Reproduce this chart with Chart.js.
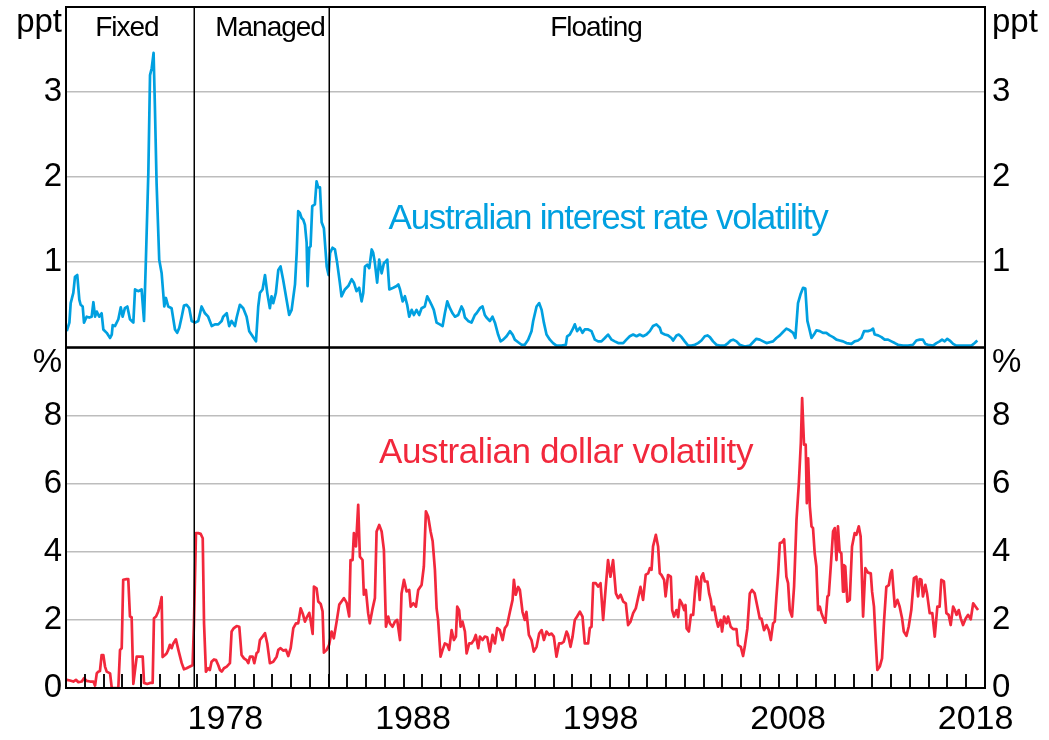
<!DOCTYPE html>
<html><head><meta charset="utf-8">
<script src="https://cdn.jsdelivr.net/npm/chart.js@4.4.0/dist/chart.umd.min.js"></script>
<style>
html,body{margin:0;padding:0;background:#fff;}
#wrap{position:relative;width:1049px;height:740px;overflow:hidden;background:#fff;}
canvas{position:absolute;left:0;}
#c1{top:-50px;}
#c2{top:290px;}
#c3{top:290px;pointer-events:none;}
</style></head><body>
<div id="wrap"><canvas id="c1" width="1049" height="420"></canvas><canvas id="c2" width="1049" height="450"></canvas><canvas id="c3" width="1049" height="450"></canvas></div>
<script>
// ---------- DATA ----------
const irDates = [1970.04,1970.18,1970.25,1970.39,1970.48,1970.60,1970.71,1970.78,1970.89,1970.96,1971.10,1971.24,1971.37,1971.46,1971.55,1971.64,1971.77,1971.90,1971.99,1972.17,1972.35,1972.44,1972.49,1972.61,1972.79,1972.92,1973.02,1973.14,1973.27,1973.41,1973.59,1973.68,1973.85,1974.03,1974.16,1974.26,1974.39,1974.48,1974.57,1974.67,1974.74,1974.83,1974.97,1975.10,1975.24,1975.33,1975.45,1975.63,1975.81,1975.93,1976.04,1976.17,1976.29,1976.43,1976.57,1976.70,1976.88,1977.05,1977.23,1977.41,1977.58,1977.77,1977.94,1978.12,1978.30,1978.38,1978.57,1978.70,1978.83,1979.01,1979.10,1979.27,1979.45,1979.63,1979.77,1979.95,1980.13,1980.25,1980.34,1980.48,1980.61,1980.73,1980.87,1980.96,1981.05,1981.19,1981.32,1981.44,1981.58,1981.76,1981.90,1982.03,1982.21,1982.30,1982.38,1982.47,1982.56,1982.65,1982.74,1982.83,1982.88,1982.97,1983.04,1983.13,1983.27,1983.36,1983.45,1983.54,1983.63,1983.75,1983.90,1984.00,1984.08,1984.21,1984.34,1984.46,1984.60,1984.69,1984.87,1985.05,1985.23,1985.35,1985.49,1985.63,1985.76,1985.85,1985.94,1986.06,1986.17,1986.30,1986.38,1986.47,1986.59,1986.70,1986.83,1986.95,1987.06,1987.13,1987.24,1987.45,1987.63,1987.72,1987.81,1987.95,1988.07,1988.19,1988.30,1988.43,1988.55,1988.69,1988.83,1988.96,1989.13,1989.26,1989.40,1989.49,1989.61,1989.76,1989.93,1990.08,1990.20,1990.33,1990.47,1990.61,1990.74,1990.91,1991.09,1991.18,1991.27,1991.44,1991.62,1991.80,1991.89,1992.07,1992.21,1992.33,1992.42,1992.60,1992.74,1992.87,1993.04,1993.17,1993.31,1993.49,1993.67,1993.81,1993.93,1994.11,1994.29,1994.46,1994.64,1994.82,1994.91,1995.09,1995.23,1995.36,1995.48,1995.62,1995.80,1995.97,1996.15,1996.42,1996.65,1996.72,1996.86,1997.01,1997.13,1997.25,1997.40,1997.54,1997.66,1997.84,1998.02,1998.20,1998.37,1998.55,1998.73,1998.90,1999.09,1999.26,1999.44,1999.71,1999.88,2000.06,2000.24,2000.42,2000.59,2000.77,2000.95,2001.13,2001.30,2001.48,2001.66,2001.75,2001.93,2002.10,2002.28,2002.37,2002.55,2002.67,2002.82,2002.99,2003.17,2003.35,2003.53,2003.70,2003.88,2004.06,2004.20,2004.33,2004.50,2004.68,2004.86,2005.12,2005.30,2005.44,2005.57,2005.75,2005.92,2006.19,2006.46,2006.63,2006.81,2006.99,2007.17,2007.35,2007.52,2007.70,2007.88,2008.06,2008.23,2008.41,2008.59,2008.77,2008.89,2009.03,2009.16,2009.30,2009.42,2009.53,2009.62,2009.75,2009.88,2010.01,2010.19,2010.36,2010.54,2010.72,2010.90,2011.08,2011.25,2011.43,2011.61,2011.88,2012.05,2012.23,2012.41,2012.55,2012.76,2012.91,2013.03,2013.12,2013.30,2013.48,2013.65,2013.83,2014.01,2014.19,2014.36,2014.63,2014.90,2015.16,2015.34,2015.52,2015.69,2015.82,2015.96,2016.23,2016.41,2016.58,2016.71,2016.85,2016.99,2017.12,2017.30,2017.47,2017.74,2018.01,2018.28,2018.45,2018.59];
const irValues = [0.19,0.29,0.52,0.64,0.83,0.85,0.56,0.50,0.48,0.29,0.36,0.35,0.36,0.53,0.36,0.42,0.36,0.40,0.21,0.17,0.11,0.15,0.26,0.25,0.33,0.47,0.36,0.46,0.48,0.33,0.29,0.68,0.66,0.68,0.31,1.03,2.05,3.20,3.28,3.46,2.83,1.93,1.03,0.87,0.48,0.58,0.48,0.46,0.21,0.17,0.23,0.36,0.49,0.50,0.46,0.31,0.29,0.31,0.48,0.40,0.36,0.25,0.27,0.27,0.31,0.36,0.40,0.25,0.31,0.25,0.35,0.50,0.46,0.36,0.19,0.13,0.07,0.48,0.64,0.68,0.85,0.64,0.46,0.60,0.52,0.64,0.91,0.95,0.79,0.56,0.38,0.44,0.74,1.11,1.60,1.58,1.52,1.50,1.44,1.23,0.72,1.17,1.19,1.66,1.68,1.95,1.88,1.88,1.47,1.40,0.95,0.85,1.11,1.17,1.15,0.99,0.76,0.60,0.68,0.72,0.80,0.76,0.66,0.70,0.54,0.64,0.95,0.97,0.93,1.15,1.11,0.99,0.76,1.03,0.87,0.99,1.01,1.03,0.68,0.70,0.72,0.74,0.68,0.54,0.60,0.50,0.36,0.44,0.38,0.44,0.38,0.46,0.48,0.60,0.54,0.50,0.44,0.29,0.27,0.25,0.40,0.54,0.46,0.40,0.36,0.38,0.48,0.44,0.35,0.31,0.29,0.38,0.40,0.46,0.48,0.38,0.35,0.31,0.36,0.29,0.15,0.07,0.09,0.13,0.19,0.15,0.09,0.06,0.03,0.03,0.09,0.19,0.31,0.48,0.52,0.44,0.29,0.15,0.09,0.05,0.02,0.02,0.03,0.13,0.15,0.21,0.27,0.19,0.23,0.17,0.21,0.21,0.19,0.09,0.07,0.07,0.11,0.15,0.09,0.07,0.05,0.05,0.09,0.13,0.15,0.13,0.15,0.13,0.15,0.19,0.25,0.27,0.23,0.17,0.15,0.14,0.11,0.08,0.14,0.15,0.12,0.07,0.02,0.02,0.03,0.05,0.08,0.13,0.14,0.12,0.07,0.03,0.02,0.02,0.05,0.08,0.09,0.07,0.03,0.01,0.02,0.06,0.10,0.09,0.07,0.05,0.06,0.07,0.11,0.14,0.18,0.22,0.20,0.17,0.11,0.52,0.62,0.70,0.69,0.31,0.23,0.11,0.15,0.20,0.19,0.17,0.17,0.14,0.12,0.09,0.08,0.07,0.05,0.04,0.07,0.08,0.11,0.19,0.19,0.20,0.22,0.15,0.14,0.12,0.09,0.09,0.07,0.05,0.03,0.02,0.02,0.03,0.08,0.09,0.09,0.04,0.03,0.02,0.05,0.07,0.09,0.07,0.10,0.08,0.04,0.02,0.02,0.02,0.02,0.05,0.08];

const audDates = [1970.04,1970.21,1970.39,1970.53,1970.66,1970.84,1970.96,1971.10,1971.28,1971.46,1971.55,1971.64,1971.72,1971.81,1971.90,1971.99,1972.08,1972.17,1972.35,1972.44,1972.61,1972.79,1972.88,1972.97,1973.05,1973.23,1973.32,1973.41,1973.50,1973.59,1973.77,1973.94,1974.09,1974.16,1974.33,1974.48,1974.62,1974.69,1974.80,1974.92,1975.01,1975.10,1975.15,1975.28,1975.37,1975.45,1975.54,1975.63,1975.72,1975.86,1975.99,1976.17,1976.29,1976.43,1976.61,1976.75,1976.82,1976.93,1977.05,1977.18,1977.29,1977.36,1977.46,1977.58,1977.67,1977.76,1977.89,1978.00,1978.12,1978.21,1978.30,1978.42,1978.57,1978.74,1978.83,1978.95,1979.10,1979.24,1979.36,1979.49,1979.63,1979.72,1979.81,1979.95,1980.04,1980.16,1980.25,1980.34,1980.48,1980.61,1980.73,1980.87,1981.05,1981.23,1981.32,1981.44,1981.58,1981.73,1981.85,1981.98,1982.12,1982.26,1982.38,1982.51,1982.62,1982.74,1982.86,1982.97,1983.04,1983.15,1983.22,1983.36,1983.45,1983.58,1983.68,1983.75,1983.90,1984.03,1984.16,1984.28,1984.43,1984.57,1984.69,1984.82,1984.96,1985.10,1985.17,1985.28,1985.35,1985.46,1985.58,1985.67,1985.81,1985.88,1985.99,1986.11,1986.20,1986.35,1986.47,1986.56,1986.70,1986.83,1986.95,1987.06,1987.18,1987.27,1987.41,1987.54,1987.66,1987.81,1987.89,1988.02,1988.16,1988.30,1988.38,1988.52,1988.66,1988.78,1988.96,1989.08,1989.19,1989.31,1989.44,1989.55,1989.67,1989.76,1989.84,1989.97,1990.08,1990.20,1990.33,1990.43,1990.56,1990.68,1990.79,1990.86,1990.96,1991.04,1991.14,1991.27,1991.36,1991.50,1991.62,1991.75,1991.85,1991.98,1992.07,1992.21,1992.33,1992.46,1992.60,1992.74,1992.87,1992.99,1993.13,1993.28,1993.40,1993.52,1993.67,1993.81,1993.88,1993.98,1994.11,1994.20,1994.34,1994.46,1994.55,1994.68,1994.82,1994.94,1995.09,1995.23,1995.36,1995.48,1995.62,1995.76,1995.89,1996.01,1996.15,1996.29,1996.42,1996.54,1996.69,1996.77,1996.90,1997.01,1997.13,1997.25,1997.40,1997.54,1997.66,1997.84,1997.93,1998.02,1998.11,1998.25,1998.37,1998.50,1998.64,1998.78,1998.90,1999.03,1999.17,1999.32,1999.44,1999.57,1999.71,1999.85,1999.97,2000.10,2000.24,2000.38,2000.50,2000.63,2000.77,2000.91,2001.04,2001.13,2001.22,2001.30,2001.45,2001.57,2001.66,2001.75,2001.89,2001.97,2002.10,2002.25,2002.32,2002.42,2002.55,2002.64,2002.73,2002.85,2002.96,2003.03,2003.09,2003.21,2003.32,2003.44,2003.53,2003.62,2003.71,2003.79,2003.88,2003.97,2004.06,2004.20,2004.29,2004.38,2004.45,2004.55,2004.68,2004.77,2004.91,2004.98,2005.09,2005.22,2005.30,2005.44,2005.57,2005.75,2005.83,2005.98,2006.10,2006.19,2006.33,2006.46,2006.58,2006.72,2006.90,2006.99,2007.08,2007.22,2007.35,2007.47,2007.58,2007.70,2007.79,2007.88,2007.97,2008.06,2008.18,2008.29,2008.41,2008.50,2008.59,2008.71,2008.82,2008.95,2009.07,2009.18,2009.25,2009.35,2009.44,2009.50,2009.57,2009.66,2009.75,2009.83,2009.92,2010.01,2010.10,2010.19,2010.28,2010.36,2010.49,2010.60,2010.67,2010.77,2010.90,2010.99,2011.08,2011.16,2011.25,2011.34,2011.43,2011.48,2011.55,2011.66,2011.79,2011.91,2012.05,2012.14,2012.27,2012.37,2012.50,2012.62,2012.76,2012.91,2012.98,2013.08,2013.16,2013.26,2013.39,2013.51,2013.62,2013.74,2013.87,2013.97,2014.04,2014.19,2014.33,2014.45,2014.58,2014.67,2014.81,2014.93,2015.07,2015.21,2015.34,2015.43,2015.52,2015.61,2015.69,2015.82,2015.91,2016.05,2016.19,2016.32,2016.46,2016.58,2016.67,2016.81,2016.94,2017.06,2017.17,2017.30,2017.39,2017.48,2017.60,2017.71,2017.83,2017.97,2018.10,2018.24,2018.37,2018.50,2018.63];
const audValues = [0.24,0.22,0.19,0.24,0.17,0.19,0.29,0.21,0.19,0.19,0.07,0.43,0.48,0.50,0.97,0.97,0.63,0.48,0.43,0.00,0.00,0.00,1.12,1.17,3.18,3.20,3.20,2.10,2.08,0.12,0.92,0.92,0.92,0.15,0.12,0.15,0.15,2.05,2.10,2.25,2.44,2.67,0.91,0.97,1.02,1.12,1.27,1.17,1.31,1.43,1.12,0.73,0.55,0.58,0.63,0.67,1.85,4.55,4.55,4.53,4.40,1.90,0.48,0.58,0.53,0.77,0.84,0.82,0.67,0.53,0.48,0.58,0.63,0.73,1.66,1.76,1.82,1.80,0.97,0.87,0.82,0.73,0.92,0.92,0.73,1.02,1.07,1.41,1.51,1.61,1.31,0.73,0.77,0.92,1.12,1.17,1.10,1.12,0.94,1.17,1.76,1.90,1.90,2.34,2.19,1.95,2.10,2.21,2.00,1.59,2.98,2.93,2.54,2.47,2.25,1.04,1.12,1.27,1.66,1.46,1.95,2.45,2.54,2.64,2.51,2.10,3.76,3.76,4.55,4.16,5.38,3.86,3.76,2.74,2.88,2.20,1.90,2.34,2.64,4.60,4.79,4.60,4.06,1.80,2.10,1.90,1.80,1.95,2.00,1.41,2.78,3.18,2.84,2.88,2.39,2.49,2.39,2.88,3.03,3.57,5.19,5.04,4.60,4.31,3.47,2.34,2.00,0.92,1.12,1.31,1.27,1.12,1.70,1.41,1.51,2.39,2.29,1.80,1.95,1.66,1.02,1.31,1.31,1.41,1.56,1.17,1.51,1.41,1.51,1.49,1.07,1.56,1.31,1.76,1.70,1.41,1.76,1.85,2.24,2.59,3.18,2.74,2.97,2.88,2.24,2.00,2.24,1.56,1.41,1.07,1.21,1.60,1.70,1.41,1.66,1.56,1.60,1.51,0.92,1.31,1.31,1.36,1.66,1.56,1.21,1.51,2.00,2.10,2.24,2.10,1.31,1.31,1.76,1.80,3.08,3.08,2.98,3.08,2.00,2.98,3.76,3.27,3.76,2.78,2.64,2.74,2.54,2.49,1.85,1.95,2.20,2.34,2.64,2.97,2.59,3.33,3.37,3.52,3.47,4.16,4.50,4.16,3.37,3.32,3.18,2.69,3.32,3.27,2.29,2.10,2.29,2.08,2.59,2.47,2.29,2.44,1.75,1.66,2.15,2.15,2.78,3.27,3.13,2.59,3.27,3.37,3.13,3.13,2.78,2.59,2.29,2.39,2.00,1.80,2.00,1.66,2.10,1.90,2.10,1.80,1.73,1.73,1.26,1.21,0.94,1.21,1.75,2.78,2.88,2.78,2.29,2.04,2.04,1.70,1.85,1.70,1.41,1.90,1.95,2.69,3.37,4.26,4.28,4.37,3.27,3.08,2.29,2.10,2.98,4.94,5.97,7.20,8.52,7.15,7.15,5.43,6.75,5.34,4.75,4.70,3.96,3.57,2.29,2.39,2.20,2.08,1.92,2.69,2.73,3.52,4.60,4.70,3.76,4.75,4.01,3.96,2.83,3.61,3.57,2.54,2.59,4.16,4.55,4.50,4.75,4.45,2.10,3.52,3.39,3.37,2.83,2.39,1.51,0.53,0.63,0.87,1.99,2.97,3.02,3.37,3.46,2.39,2.59,2.39,2.04,1.66,1.53,1.80,2.29,3.23,3.27,2.69,3.20,3.18,2.69,3.03,2.78,2.20,2.20,1.51,2.39,2.39,3.18,3.13,2.20,2.15,1.85,2.39,2.29,2.15,2.29,2.04,1.85,2.04,2.15,2.02,2.49,2.39,2.29];

const regimeDates = [1976.83, 1984.0];
const regimeNames = ['Fixed', 'Managed', 'Floating'];
const regimeNameX = [1973.25, 1980.88, 1998.26];
const xLabelYears = [1978, 1988, 1998, 2008, 2018];
const irGridTicks = [1, 2, 3];
const audGridTicks = [2, 4, 6, 8];
const irUnit = 'ppt';
const audUnit = '%';
const irTitle = 'Australian interest rate volatility';
const audTitle = 'Australian dollar volatility';

// ---------- STYLE ----------
const X_MIN = 1970, X_MAX = 2019;
const yearTickValues = [];
for (let yr = X_MIN + 1; yr < X_MAX; yr++) yearTickValues.push(yr);
const BLUE = '#00A0E0';
const RED = '#F2283C';
const GRID = '#BDBDBD';
const FONT = '"Liberation Sans", Arial, sans-serif';

function pts(d, v) { return d.map((x, i) => ({x, y: v[i]})); }

function drawYearTicks(ctx, xs, a) {
  ctx.save();
  ctx.fillStyle = '#000';
  for (let i = 0; i < yearTickValues.length; i++) {
    const x = Math.round(xs.getPixelForValue(yearTickValues[i]));
    ctx.fillRect(x - 0.75, a.bottom - 14, 1.5, 13);
  }
  ctx.restore();
}

const framePlugin = {
  id: 'frame',
  afterDatasetsDraw(chart) {
    const ctx = chart.ctx, a = chart.chartArea, xs = chart.scales.x, ys = chart.scales.y;
    ctx.save();
    ctx.strokeStyle = '#000';
    ctx.lineWidth = 1.5;
    regimeDates.forEach(d => {
      const x = Math.round(xs.getPixelForValue(d)) + 0.25;
      ctx.beginPath(); ctx.moveTo(x, a.top); ctx.lineTo(x, a.bottom); ctx.stroke();
    });
    ctx.lineWidth = 2;
    ctx.strokeRect(a.left, a.top, a.right - a.left, a.bottom - a.top);
    if (chart.canvas.id === 'c2') drawYearTicks(ctx, xs, a);
    const texts = (chart.canvas.id === 'c2') ? bottomTexts : topTexts;
    texts.forEach(t => {
      ctx.font = t.size + 'px ' + FONT;
      if ('letterSpacing' in ctx) ctx.letterSpacing = (t.ls || 0) + 'px';
      ctx.fillStyle = t.color;
      ctx.textAlign = 'center';
      ctx.textBaseline = 'middle';
      ctx.fillText(t.text, xs.getPixelForValue(t.x), ys.getPixelForValue(t.y));
    });
    if ('letterSpacing' in ctx) ctx.letterSpacing = '0px';
    ctx.restore();
  }
};

const topTexts = [
  {text: regimeNames[0], x: regimeNameX[0], y: 3.75, color: '#000', size: 28, ls: -1},
  {text: regimeNames[1], x: regimeNameX[1], y: 3.75, color: '#000', size: 28, ls: -1},
  {text: regimeNames[2], x: regimeNameX[2], y: 3.75, color: '#000', size: 28, ls: -1},
  {text: irTitle, x: 1998.9, y: 1.50, color: BLUE, size: 35, ls: -1.3}
];
const bottomTexts = [
  {text: audTitle, x: 1996.66, y: 6.91, color: RED, size: 35, ls: -0.4}
];

function yAxes(max, step, gridTicks, unit, labelled) {
  const cb = v => v === max ? ['', unit] : (labelled.includes(v) ? String(v) : '');
  const tickFont = {family: FONT, size: 33, lineHeight: 0.95};
  return {
    y: {
      type: 'linear', position: 'left', min: 0, max: max,
      afterFit: s => { s.width = 66; },
      afterBuildTicks: s => { const t = []; for (let v = 0; v <= max; v += step) t.push({value: v}); s.ticks = t; },
      ticks: {callback: cb, color: '#000', font: tickFont, padding: 4, autoSkip: false},
      grid: {drawTicks: false, lineWidth: 1.5, color: c => gridTicks.includes(c.tick.value) ? GRID : 'rgba(0,0,0,0)'},
      border: {display: false}
    },
    y2: {
      type: 'linear', position: 'right', min: 0, max: max,
      afterFit: s => { s.width = 64; },
      afterBuildTicks: s => { const t = []; for (let v = 0; v <= max; v += step) t.push({value: v}); s.ticks = t; },
      ticks: {callback: cb, color: '#000', font: tickFont, padding: 7, autoSkip: false},
      grid: {drawOnChartArea: false, drawTicks: false},
      border: {display: false}
    }
  };
}

const common = {
  responsive: false, animation: false,
  elements: {point: {radius: 0}, line: {tension: 0, borderWidth: 2.7, borderJoinStyle: 'round'}},
};

// Top chart
const topScales = yAxes(4, 1, irGridTicks, irUnit, [1, 2, 3]);
topScales.x = {type: 'linear', min: X_MIN, max: X_MAX, display: false};
new Chart(document.getElementById('c1'), {
  type: 'line',
  data: {datasets: [{data: pts(irDates, irValues), borderColor: BLUE, yAxisID: 'y'}]},
  options: Object.assign({}, common, {
    layout: {padding: {top: 57, bottom: 22.3, left: 0, right: 0}},
    scales: topScales,
    plugins: {legend: {display: false}, tooltip: {enabled: false}}
  }),
  plugins: [framePlugin]
});

// Bottom chart
const xTicks = [];
for (let v = X_MIN; v <= X_MAX; v += 0.5) xTicks.push(v);
const botScales = yAxes(10, 2, audGridTicks, audUnit, [0, 2, 4, 6, 8]);
botScales.x = {
  type: 'linear', position: 'bottom', min: X_MIN, max: X_MAX,
  afterFit: s => { s.height = 52; },
  afterBuildTicks: s => { s.ticks = xTicks.map(v => ({value: v})); },
  ticks: {
    autoSkip: false, maxRotation: 0, minRotation: 0, padding: 11, color: '#000',
    font: {family: FONT, size: 34},
    callback: v => (v % 1 === 0.5 && xLabelYears.includes(Math.floor(v))) ? String(Math.floor(v)) : ''
  },
  grid: {display: false, drawTicks: false},
  border: {display: false}
};
const chart2 = new Chart(document.getElementById('c2'), {
  type: 'line',
  data: {datasets: [{data: pts(audDates, audValues), borderColor: RED, yAxisID: 'y'}]},
  options: Object.assign({}, common, {
    layout: {padding: {top: 57.7, bottom: 0, left: 0, right: 0}},
    scales: botScales,
    plugins: {legend: {display: false}, tooltip: {enabled: false}}
  }),
  plugins: [framePlugin]
});

// overlay: same year ticks, positioned with the bottom chart's x scale
const c3 = document.getElementById('c3');
drawYearTicks(c3.getContext('2d'), chart2.scales.x, chart2.chartArea);
</script>
</body></html>
